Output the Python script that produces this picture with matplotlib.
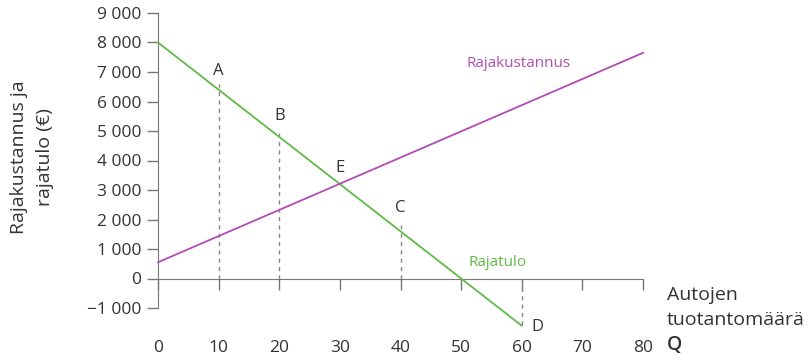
import matplotlib
matplotlib.use("Agg")
import matplotlib.pyplot as plt
from matplotlib.ticker import FuncFormatter

plt.rcParams['font.family'] = ['Open Sans', 'DejaVu Sans']

# Data
q_mr = [0, 60]
mr = [8000, -1600]
q_mc = [0, 80]
mc = [550, 7650]
drop_q = [10, 20, 40]
drop_v = [6400, 4800, 1600]
d_q = 60
d_v = -1600
point_labels = ['A', 'B', 'E', 'C', 'D']
point_q = [10, 20, 30, 40, 62.5]
point_v = [7050, 5500, 3750, 2400, -1650]
x_ticks = [0, 10, 20, 30, 40, 50, 60, 70, 80]
y_ticks = [-1000, 0, 1000, 2000, 3000, 4000, 5000, 6000, 7000, 8000, 9000]

green = '#5dbb46'
purple = '#b04db5'
text_c = '#333333'
axis_c = '#777777'

fig = plt.figure(figsize=(8.09, 3.61), dpi=100)
ax = fig.add_axes([158/809, (361-308)/361, 485/809, 295/361])
ax.set_xlim(0, 80)
ax.set_ylim(-1000, 9000)

for s in ['top', 'right']:
    ax.spines[s].set_visible(False)
ax.spines['bottom'].set_position(('data', 0))
ax.spines['bottom'].set_color(axis_c)
ax.spines['left'].set_color(axis_c)

ax.plot(q_mr, mr, color=green, lw=1.3, clip_on=False, zorder=3)
ax.plot(q_mc, mc, color=purple, lw=1.3, clip_on=False, zorder=3)

for q, v in zip(drop_q, drop_v):
    ax.plot([q, q], [0, v + 200], color='#888888', lw=1, ls=(0, (3, 3)), zorder=2)
ax.plot([d_q, d_q], [0, d_v], color='#888888', lw=1, ls=(0, (3, 3)), clip_on=False, zorder=2)

for lab, q, v in zip(point_labels, point_q, point_v):
    ax.text(q, v, lab, ha='center', va='center', fontsize=12, color=text_c)

ax.text(59.5, 7300, 'Rajakustannus', color=purple, fontsize=11, ha='center', va='center')
ax.text(56, 550, 'Rajatulo', color=green, fontsize=11, ha='center', va='center')

ax.set_xticks(x_ticks)
ax.set_yticks(y_ticks)
fmt = lambda v, p: ('\u2212' if v < 0 else '') + f'{abs(int(v)):,}'.replace(',', ' ')
ax.yaxis.set_major_formatter(FuncFormatter(fmt))
ax.tick_params(axis='x', direction='out', length=8, width=1, color=axis_c, pad=36, labelsize=12.5, labelcolor=text_c)
ax.tick_params(axis='y', direction='out', length=8, width=1, color=axis_c, pad=4, labelsize=12.5, labelcolor=text_c)

fig.text(32/809, 1 - 157/361, 'Rajakustannus ja\nrajatulo (€)', rotation=90, ha='center', va='center',
         multialignment='center', fontsize=14, color=text_c, linespacing=1.55)
fig.text(667/809, 1 - 295/361, 'Autojen', ha='left', va='center', fontsize=14, color=text_c)
fig.text(667/809, 1 - 320/361, 'tuotantomäärä', ha='left', va='center', fontsize=14, color=text_c)
fig.text(667/809, 1 - 345/361, 'Q', ha='left', va='center', fontsize=14, color=text_c, fontweight='semibold')

fig.savefig('out.png', dpi=100)
